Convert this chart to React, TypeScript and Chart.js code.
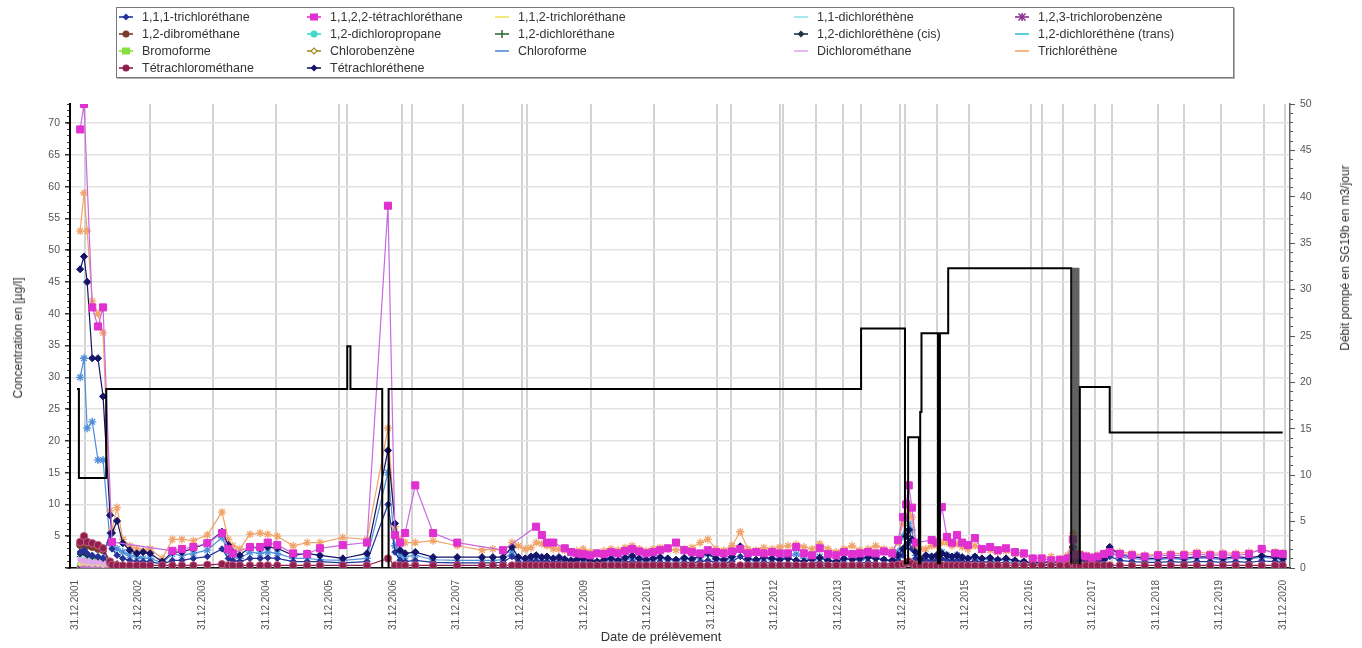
import React, { useEffect, useRef } from "react";
import { Chart, registerables } from "chart.js";

Chart.register(...registerables);

const FONT = "'Liberation Sans', Arial, sans-serif";

// Sampling dates (decimal years on the time axis; 2002.0 = 31.12.2001)
const sampleDates = [
  2002.08, 2002.14, 2002.19, 2002.27, 2002.36, 2002.44, 2002.55, 2002.58, 2002.66, 2002.75,
  2002.86, 2002.97, 2003.07, 2003.18, 2003.37, 2003.53, 2003.68, 2003.86, 2004.08, 2004.31,
  2004.41, 2004.48, 2004.59, 2004.75, 2004.91, 2005.03, 2005.18, 2005.43, 2005.65, 2005.85,
  2006.21, 2006.59, 2006.92, 2007.03, 2007.11, 2007.19, 2007.35, 2007.63, 2008.01, 2008.40,
  2008.57, 2008.73, 2008.87,
  2008.97, 2009.08, 2009.17, 2009.25, 2009.34, 2009.42, 2009.52, 2009.61, 2009.70, 2009.80,
  2009.89, 2009.99, 2010.10, 2010.21, 2010.32, 2010.43, 2010.54, 2010.65, 2010.76, 2010.87,
  2010.98, 2011.09, 2011.20, 2011.32, 2011.45, 2011.58, 2011.70, 2011.83, 2011.95, 2012.08,
  2012.20, 2012.33, 2012.46, 2012.58, 2012.71, 2012.83, 2012.96, 2013.08, 2013.21, 2013.34,
  2013.46, 2013.59, 2013.71, 2013.84, 2013.97, 2014.09, 2014.22, 2014.34, 2014.47, 2014.59,
  2014.72, 2014.85, 2014.94, 2015.02, 2015.07, 2015.11, 2015.16, 2015.22, 2015.29, 2015.38,
  2015.47, 2015.55, 2015.63, 2015.71, 2015.79, 2015.87, 2015.95, 2016.04, 2016.15, 2016.26,
  2016.39, 2016.51, 2016.64, 2016.78, 2016.92, 2017.06, 2017.20, 2017.35, 2017.49, 2017.61,
  2017.69, 2017.74, 2017.80, 2017.90, 2017.99, 2018.08, 2018.18, 2018.27, 2018.43, 2018.62,
  2018.82, 2019.03, 2019.23, 2019.44, 2019.64, 2019.85, 2020.05, 2020.25, 2020.46, 2020.66,
  2020.87, 2020.99,
];

const tetrachloroethene = [
  47, 49, 45, 33, 33, 27, 8.3, 5.5, 7.4, 3.9, 2.8, 2.3, 2.5, 2.3, 1.0, 2.5, 2.5, 3.1, 3.9, 5.7,
  3.6, 2.5, 2.0, 3.3, 3.1, 3.3, 3.1, 2.0, 2.3, 2.0, 1.5, 2.3, 18.5, 7.0, 2.8, 2.3, 2.5, 1.7, 1.7, 1.7,
  1.7, 1.7, 3.3,
  1.7, 1.5, 1.8, 2.0, 1.7, 1.8, 1.5, 1.7, 1.4, 1.2,
  1.3, 1.5, 1.2, 1.0, 1.3, 1.5, 1.2, 1.6, 1.9, 1.5,
  1.3, 1.5, 1.7, 1.5, 1.3, 1.6, 1.4, 1.9, 2.3, 1.5,
  1.3, 1.8, 3.4, 1.5, 1.3, 1.7, 1.5, 1.3, 1.5, 1.2,
  1.0, 1.4, 1.6, 1.2, 1.0, 1.5, 1.3, 1.5, 1.7, 1.5,
  1.3, 1.2, 2.0, 3.0, 5.0, 6.0, 4.5, 2.5, 1.5, 2.0,
  1.8, 2.0, 2.3, 2.0, 1.8, 2.0, 1.7, 1.5, 1.8, 1.5,
  1.6, 1.3, 1.5, 1.2, 1.0, 0.8, 0.9, 1.0, 0.8, 1.2,
  3.3, 1.5, 1.3, 1.2, 1.0, 1.2, 1.4, 3.3, 2.0, 1.8,
  1.5, 1.5, 1.7, 1.5, 1.8, 1.7, 1.5, 1.8, 1.6, 1.9,
  1.7, 1.5,
];

const tetrachloroethane1122 = [
  69, 73, null, 41, 38, 41, null, 4.1, null, null, null, null, null, null, null, 2.7, 3.0, 3.3, 3.9, 5.5,
  3.0, 2.3, null, 3.3, 3.3, 4.0, 3.6, 2.3, 2.2, 3.1, 3.6, 4.0, 57, 5.2, 4.0, 5.5, 13, 5.5, 4.0, null,
  null, 2.8, null,
  null, null, null, 6.5, 5.2, 4.0, 4.0, null, 3.1, 2.5,
  2.3, 2.2, 2.0, 2.3, 2.2, 2.5, 2.3, 2.7, 3.0, 2.6,
  2.3, 2.5, 2.8, 3.1, 4.0, 2.8, 2.5, 2.3, 2.8, 2.5,
  2.3, 2.6, 3.0, 2.3, 2.5, 2.3, 2.5, 2.3, 2.3, 3.3,
  2.3, 2.0, 3.1, 2.2, 2.0, 2.5, 2.2, 2.3, 2.5, 2.3,
  2.6, 2.3, 4.4, 8.0, 10.0, 13.0, 9.5, 4.0, null, null,
  4.4, 4.0, 9.6, 4.9, 4.0, 5.2, 4.0, 3.6, 4.7, 3.0,
  3.3, 2.8, 3.1, 2.5, 2.3, 1.5, 1.5, 1.2, 1.3, 1.5,
  4.5, 2.0, 2.0, 1.8, 1.6, 1.8, 2.2, 2.5, 2.2, 2.0,
  1.8, 2.0, 2.0, 2.0, 2.2, 2.0, 2.1, 2.0, 2.2, 3.0,
  2.3, 2.2,
];

const trichloroethene = [
  53, 59, 53, 42, 40, 37, 9.0, 6.0, 9.5, 4.5, 3.5, 3.0, 2.7, 3.0, 1.5, 4.5, 4.5, 4.3, 5.2, 8.8,
  4.5, 3.5, 3.0, 5.3, 5.5, 5.3, 5.0, 3.5, 4.0, 4.0, 4.8, 4.5, 22, 6.5, 4.5, 4.0, 4.0, 4.3, 3.5, 2.8,
  3.0, 2.7, 4.0,
  3.5, 3.0, 3.2, 4.0, 3.8, 3.5, 3.0, 3.0, 2.8, 2.5,
  2.7, 3.0, 2.5, 2.3, 2.7, 3.0, 2.8, 3.2, 3.5, 3.0,
  2.7, 3.0, 3.2, 3.0, 2.8, 3.0, 3.2, 4.0, 4.5, 3.0,
  2.8, 3.5, 5.7, 3.0, 2.8, 3.2, 3.0, 3.3, 3.5, 3.7,
  3.3, 3.0, 3.8, 3.0, 2.5, 3.0, 3.5, 2.8, 3.0, 3.5,
  3.0, 2.8, 4.0, 7.0, 10.0, 9.0, 8.0, 3.5, 3.0, 3.0,
  3.5, 3.5, 4.0, 4.0, 3.5, 3.8, 3.3, 3.0, 3.5, 2.8,
  2.8, 2.5, 2.7, 2.2, 2.0, 1.5, 1.6, 1.8, 1.5, 2.0,
  5.5, 2.5, 2.3, 2.0, 1.8, 2.0, 2.3, 3.0, 2.5, 2.3,
  2.0, 2.2, 2.3, 2.3, 2.5, 2.3, 2.4, 2.3, 2.5, 2.8,
  2.5, 2.4,
];

const chloroforme = [
  30, 33, 22, 23, 17, 17, 4.0, 3.5, 3.0, 2.5, 2.0, 1.8, 1.5, 1.5, 0.8, 2.2, 2.0, 2.3, 2.8, 4.8,
  2.5, 2.0, 1.5, 2.5, 2.3, 2.5, 2.3, 1.5, 1.5, 1.3, 1.2, 1.5, 15, 3.5, 2.0, 1.8, 2.0, 1.3, 1.2, 1.2,
  1.2, 1.3, 2.5,
  1.5, 1.3, 1.6, 1.8, 1.6, 1.5, 1.3, 1.4, 1.2, 1.0,
  1.1, 1.3, 1.0, 0.9, 1.1, 1.3, 1.1, 1.4, 1.7, 1.3,
  1.1, 1.3, 1.5, 1.3, 1.1, 1.4, 1.3, 1.7, 2.2, 1.3,
  1.1, 1.6, 3.0, 1.3, 1.1, 1.5, 1.3, 1.5, 1.7, 2.2,
  1.5, 1.2, 1.8, 1.1, 0.9, 1.3, 1.8, 1.2, 1.5, 1.8,
  1.2, 1.0, 2.5, 5.0, 8.0, 7.0, 6.0, 2.0, 1.5, 1.7,
  1.8, 1.8, 2.5, 2.0, 1.7, 2.0, 1.6, 1.4, 1.7, 1.3,
  1.4, 1.2, 1.3, 1.0, 0.9, 0.7, 0.8, 0.9, 0.7, 1.0,
  3.0, 1.3, 1.2, 1.0, 0.9, 1.0, 1.2, 2.5, 1.7, 1.5,
  1.3, 1.3, 1.5, 1.3, 1.6, 1.5, 1.3, 1.6, 1.4, 1.7,
  1.5, 1.3,
];

const tetrachloromethane = [
  4.1, 5.0, 4.1, 3.9, 3.6, 3.1, 1.0, 0.5, 0.4, 0.4, 0.4, 0.4, 0.4, 0.4, 0.4, 0.4, 0.4, 0.4, 0.5, 0.6,
  0.4, 0.4, 0.4, 0.4, 0.4, 0.4, 0.4, 0.4, 0.4, 0.4, 0.4, 0.4, 1.5, 0.4, 0.4, 0.4, 0.4, 0.4, 0.4, 0.4,
  0.4, 0.4, 0.4,
  0.4, 0.4, 0.4, 0.4, 0.4, 0.4, 0.4, 0.4, 0.4, 0.4,
  0.4, 0.4, 0.4, 0.4, 0.4, 0.4, 0.4, 0.4, 0.4, 0.4,
  0.4, 0.4, 0.4, 0.4, 0.4, 0.4, 0.4, 0.4, 0.4, 0.4,
  0.4, 0.4, 0.4, 0.4, 0.4, 0.4, 0.4, 0.4, 0.4, 0.4,
  0.4, 0.4, 0.4, 0.4, 0.4, 0.4, 0.4, 0.4, 0.4, 0.4,
  0.4, 0.4, 0.5, 0.6, 0.8, 1.0, 0.7, 0.4, 0.4, 0.4,
  0.4, 0.4, 0.4, 0.4, 0.4, 0.4, 0.4, 0.4, 0.4, 0.4,
  0.4, 0.4, 0.4, 0.4, 0.4, 0.4, 0.4, 0.4, 0.4, 0.4,
  0.8, 0.4, 0.4, 0.4, 0.4, 0.4, 0.4, 0.4, 0.4, 0.4,
  0.4, 0.4, 0.4, 0.4, 0.4, 0.4, 0.4, 0.4, 0.4, 0.4,
  0.4, 0.4,
];

const trichloroethane111 = [
  2.5, 2.8, 2.3, 2.0, 1.8, 1.6, 5.5, 3.0, 2.0, 1.5, 1.2, 1.0, 1.0, 1.0, 0.6, 1.2, 1.2, 1.5, 1.8, 3.0,
  1.5, 1.2, 1.0, 1.5, 1.5, 1.6, 1.5, 1.0, 1.0, 1.0, 0.8, 1.0, 10, 2.5, 1.2, 1.0, 1.2, 0.9, 0.8, 0.8,
  0.8, 0.9, 1.8,
  0.9, 0.8, 1.0, 1.1, 0.9, 1.0, 0.8, 0.9, 0.8, 0.7,
  0.7, 0.8, 0.7, 0.6, 0.7, 0.8, 0.7, 0.9, 1.0, 0.8,
  0.7, 0.8, 0.9, 0.8, 0.7, 0.9, 0.8, 1.0, 1.2, 0.8,
  0.7, 1.0, 1.8, 0.8, 0.7, 0.9, 0.8, 0.7, 0.8, 0.7,
  0.6, 0.8, 0.9, 0.7, 0.6, 0.8, 0.7, 0.8, 0.9, 0.8,
  0.7, 0.7, 1.2, 2.0, 3.5, 4.0, 3.0, 1.5, 1.0, 1.2,
  1.1, 1.2, 1.4, 1.2, 1.1, 1.2, 1.0, 0.9, 1.1, 0.9,
  1.0, 0.8, 0.9, 0.7, 0.6, 0.5, 0.5, 0.6, 0.5, 0.7,
  2.0, 0.9, 0.8, 0.7, 0.6, 0.7, 0.8, 1.8, 1.2, 1.0,
  0.9, 0.9, 1.0, 0.9, 1.0, 1.0, 0.9, 1.0, 0.9, 1.1,
  1.0, 0.9,
];

const dce12cis = [2.2, 2.4, 2.0, 1.8, 1.7, 1.5, 1.0, 0.8, 0.7, 0.6, 0.6, 0.5, 0.5, 0.5];
const dichloromethane = [1.3, 1.2, 1.1, 1.0, 1.0, 0.9, 0.5, 0.4, 0.3, 0.3, 0.3, 0.3, 0.3, 0.3];
const dibromoethane12 = [3.6, 4.2, 3.5, 3.3, 3.0, 2.8, 0.8, 0.4, 0.3, 0.3, 0.3, 0.3, 0.3, 0.3];
const trichloroethane112 = [0.6, 0.7, 0.6, 0.5, 0.5, 0.4, 0.3, 0.3, 0.2, 0.2, 0.2, 0.2, 0.2, 0.2];
const dce11 = [1.6, 1.8, 1.5, 1.3, 1.2, 1.0, 0.5, 0.4, 0.4, 0.3, 0.3, 0.3, 0.3, 0.3];
const tcb123 = [0.2, 0.2, 0.2, 0.2, 0.2, 0.2, 0.1, 0.1, 0.1, 0.1, 0.1, 0.1, 0.1, 0.1];
const dcp12 = [0.4, 0.4, 0.3, 0.3, 0.3, 0.3, 0.2, 0.2, 0.2, 0.2, 0.2, 0.2, 0.2, 0.2];
const dca12 = [1.8, 2.0, 1.7, 1.5, 1.3, 1.2, 0.6, 0.5, 0.4, 0.4, 0.3, 0.3, 0.3, 0.3];
const dce12trans = [0.8, 0.9, 0.8, 0.7, 0.6, 0.6, 0.3, 0.3, 0.2, 0.2, 0.2, 0.2, 0.2, 0.2];
const bromoforme = [0.2, 0.2, 0.2, 0.2, 0.2, 0.2, 0.1, 0.1, 0.1, 0.1, 0.1, 0.1, 0.1, 0.1];
const chlorobenzene = [0.1, 0.1, 0.1, 0.1, 0.1, 0.1, 0.1, 0.1, 0.1, 0.1, 0.1, 0.1, 0.1, 0.1];

// Pumped flow (m3/day), each value holds from its date until the next one
const pumpDates = [
  2002.03, 2002.06, 2002.49, 2006.28, 2006.33, 2006.83, 2006.93, 2014.36, 2015.05, 2015.1,
  2015.27, 2015.29, 2015.31, 2015.57, 2015.6, 2015.73, 2017.665, 2017.68, 2017.695, 2017.71,
  2017.725, 2017.74, 2017.755, 2017.77, 2017.785, 2017.8, 2018.27, 2020.99,
];
const pumpRates = [
  19.3, 9.7, 19.3, 23.9, 19.3, 0, 19.3, 25.8, 0.5, 14.1,
  0.5, 16.8, 25.3, 0.5, 25.3, 32.3, 0.5, 32.3, 0.5, 32.3,
  0.5, 32.3, 0.5, 32.3, 0.5, 19.5, 14.6, 14.6,
];

const xTickValues = [
  2002, 2003, 2004, 2005, 2006, 2007, 2008, 2009, 2010, 2011,
  2012, 2013, 2014, 2015, 2016, 2017, 2018, 2019, 2020, 2021,
];
const xGridValues = [
  2002.16, 2003.18, 2004.17, 2005.16, 2006.15, 2006.28, 2007.14, 2007.3, 2008.1, 2009.03,
  2009.11, 2010.11, 2011.1, 2012.09, 2012.31, 2013.08, 2013.13, 2013.65, 2014.08, 2014.36,
  2014.97, 2015.05, 2015.55, 2016.06, 2017.03, 2017.2, 2017.53, 2018.04, 2018.3, 2019.03,
  2019.44, 2020.02, 2020.7, 2021.03,
];
const concTickValues = [0, 5, 10, 15, 20, 25, 30, 35, 40, 45, 50, 55, 60, 65, 70];
const X_MIN = 2001.92;
const X_MAX = 2021.105;
const CONC_MAX = 73;
const FLOW_MAX = 50;
const DENSE_PUMP_FROM = 2017.67;
const DENSE_PUMP_TO = 2017.79;

type Shape = "diamond" | "square" | "circle" | "star" | "cross" | "dash" | "hollowDiamond";

interface SeriesDef {
  label: string;
  values: (number | null)[];
  color: string;
  lineColor?: string;
  borderColor?: string;
  point: string;
  radius: number;
  legend: Shape;
  order: number;
  fill?: string;
}

const SERIES: SeriesDef[] = [
  { label: "1,1,1-trichloréthane", values: trichloroethane111, color: "#24329a", point: "rectRot", radius: 3.2, legend: "diamond", order: 5 },
  { label: "1,1,2,2-tétrachloréthane", values: tetrachloroethane1122, color: "#e030d0", lineColor: "#c86ade", point: "rect", radius: 5, legend: "square", order: 2 },
  { label: "1,1,2-trichloréthane", values: trichloroethane112, color: "#f2e35a", point: "circle", radius: 2, legend: "dash", order: 9 },
  { label: "1,1-dichloréthène", values: dce11, color: "#8fe6e6", point: "circle", radius: 2, legend: "dash", order: 9 },
  { label: "1,2,3-trichlorobenzène", values: tcb123, color: "#8a2c8a", point: "star", radius: 3, legend: "star", order: 9 },
  { label: "1,2-dibrométhane", values: dibromoethane12, color: "#7b3b2e", point: "circle", radius: 3.5, legend: "circle", order: 8 },
  { label: "1,2-dichloropropane", values: dcp12, color: "#3fd9cc", point: "circle", radius: 3, legend: "circle", order: 9 },
  { label: "1,2-dichloréthane", values: dca12, color: "#2f6b35", point: "cross", radius: 3.5, legend: "cross", order: 9 },
  { label: "1,2-dichloréthène (cis)", values: dce12cis, color: "#1e3446", point: "rectRot", radius: 3, legend: "diamond", order: 7 },
  { label: "1,2-dichloréthène (trans)", values: dce12trans, color: "#37bfe0", point: "circle", radius: 2, legend: "dash", order: 9 },
  { label: "Bromoforme", values: bromoforme, color: "#86e03c", point: "rect", radius: 4, legend: "square", order: 9 },
  { label: "Chlorobenzène", values: chlorobenzene, color: "#a88a1e", point: "rectRot", radius: 3, legend: "hollowDiamond", order: 9 },
  { label: "Chloroforme", values: chloroforme, color: "#4f8fd8", point: "star", radius: 4, legend: "dash", order: 6 },
  { label: "Dichlorométhane", values: dichloromethane, color: "#e2a6ee", point: "circle", radius: 2.5, legend: "dash", order: 8, fill: "origin" },
  { label: "Trichloréthène", values: trichloroethene, color: "#f2a36a", point: "star", radius: 4, legend: "dash", order: 4 },
  { label: "Tétrachlorométhane", values: tetrachloromethane, color: "#8e1f4f", borderColor: "#c4607f", point: "circle", radius: 3.8, legend: "circle", order: 1 },
  { label: "Tétrachloréthene", values: tetrachloroethene, color: "#141468", point: "rectRot", radius: 3.6, legend: "diamond", order: 3 },
];

const LEGEND_COL_X = [142, 330, 518, 817, 1038];
const LEGEND_ROW_Y = [17, 34, 51, 68];

function LegendMarker({ shape, color }: { shape: Shape; color: string }) {
  const c = 10;
  const m = 6;
  let s: React.ReactNode = null;
  if (shape === "diamond") s = <polygon points={`${c},${m - 3.5} ${c + 3.5},${m} ${c},${m + 3.5} ${c - 3.5},${m}`} fill={color} />;
  else if (shape === "hollowDiamond") s = <polygon points={`${c},${m - 3} ${c + 3},${m} ${c},${m + 3} ${c - 3},${m}`} fill="#fff" stroke={color} strokeWidth={1.2} />;
  else if (shape === "square") s = <rect x={c - 4} y={m - 3.5} width={8} height={7} fill={color} />;
  else if (shape === "circle") s = <circle cx={c} cy={m} r={3.5} fill={color} />;
  else if (shape === "star")
    s = (
      <g stroke={color} strokeWidth={1.5}>
        <line x1={c - 3.5} y1={m - 3.5} x2={c + 3.5} y2={m + 3.5} />
        <line x1={c - 3.5} y1={m + 3.5} x2={c + 3.5} y2={m - 3.5} />
        <line x1={c} y1={m - 4} x2={c} y2={m + 4} />
      </g>
    );
  else if (shape === "cross") s = <line x1={c} y1={m - 4} x2={c} y2={m + 4} stroke={color} strokeWidth={1.5} />;
  return (
    <svg width={20} height={12} style={{ display: "block" }}>
      <line x1={3} y1={m} x2={17} y2={m} stroke={color} strokeWidth={1.6} />
      {s}
    </svg>
  );
}

export default function App() {
  const canvasRef = useRef<HTMLCanvasElement | null>(null);

  useEffect(() => {
    if (!canvasRef.current) return;
    Chart.defaults.font.family = FONT;

    const datasets: any[] = SERIES.map((s) => ({
      label: s.label,
      data: sampleDates.map((d, i) => ({ x: d, y: i < s.values.length ? s.values[i] : null })),
      borderColor: s.lineColor || s.color,
      backgroundColor: s.fill ? "rgba(226,166,238,0.55)" : s.color,
      pointBackgroundColor: s.legend === "hollowDiamond" ? "#fff" : s.color,
      pointBorderColor: s.borderColor || s.color,
      pointBorderWidth: s.point === "star" || s.point === "cross" ? 1.3 : 1,
      pointStyle: s.point,
      pointRadius: s.radius,
      borderWidth: 1.2,
      spanGaps: true,
      fill: s.fill || false,
      order: s.order,
      yAxisID: "y",
      xAxisID: "x",
    }));

    const inDense = (ctx: any) => ctx.p1.parsed.x > DENSE_PUMP_FROM && ctx.p1.parsed.x <= DENSE_PUMP_TO;

    datasets.push({
      label: "Débit pompé",
      data: pumpDates.map((d, i) => ({ x: d, y: pumpRates[i] })),
      borderColor: "#000",
      borderWidth: 2,
      pointRadius: 0,
      stepped: "before",
      fill: false,
      order: 0,
      yAxisID: "y1",
      xAxisID: "x",
      segment: {
        borderColor: (ctx: any) => (inDense(ctx) ? "rgba(45,45,45,0.75)" : undefined),
        borderWidth: (ctx: any) => (inDense(ctx) ? 1.2 : undefined),
      },
    });

    const minor = (max: number) => Array.from({ length: max + 1 }, (_, i) => ({ value: i }));

    const chart = new Chart(canvasRef.current, {
      type: "line",
      data: { datasets },
      options: {
        animation: false,
        responsive: false,
        maintainAspectRatio: false,
        layout: { padding: { top: 104, left: 0, right: 0, bottom: 0 } },
        plugins: { legend: { display: false }, tooltip: { enabled: false } },
        scales: {
          xg: {
            type: "linear",
            position: "bottom",
            weight: 0,
            min: X_MIN,
            max: X_MAX,
            afterBuildTicks: (s: any) => { s.ticks = xGridValues.map((v) => ({ value: v })); },
            afterFit: (s: any) => { s.height = 0; },
            ticks: { display: false },
            grid: { color: "#d3d3d3", lineWidth: 2, drawTicks: false },
            border: { display: false },
          },
          x: {
            type: "linear",
            position: "bottom",
            weight: 1,
            min: X_MIN,
            max: X_MAX,
            afterBuildTicks: (s: any) => { s.ticks = xTickValues.map((v) => ({ value: v })); },
            afterFit: (s: any) => { s.height = 80; },
            ticks: {
              autoSkip: false,
              minRotation: 90,
              maxRotation: 90,
              padding: 4,
              color: "#555",
              font: { size: 10 },
              callback: (v: any) => "31.12." + (Number(v) - 1),
            },
            grid: { display: false },
            border: { display: true, color: "#111", width: 1.5 },
          },
          yMinor: {
            type: "linear",
            position: "left",
            weight: 0,
            min: 0,
            max: CONC_MAX,
            afterBuildTicks: (s: any) => { s.ticks = minor(CONC_MAX); },
            afterFit: (s: any) => { s.width = 0; },
            ticks: { display: false },
            grid: { drawOnChartArea: false, tickLength: 3, tickColor: "#444", lineWidth: 1 },
            border: { display: false },
          },
          y: {
            type: "linear",
            position: "left",
            weight: 1,
            min: 0,
            max: CONC_MAX,
            afterBuildTicks: (s: any) => { s.ticks = concTickValues.map((v) => ({ value: v })); },
            afterFit: (s: any) => { s.width = 70; },
            ticks: {
              color: "#555",
              font: { size: 10.5 },
              padding: 5,
              callback: (v: any) => (Number(v) === 0 ? "" : String(v)),
            },
            grid: { color: "#e3e3e3", lineWidth: 1.5, tickLength: 5, tickColor: "#333" },
            border: { color: "#000", width: 2 },
          },
          y1Minor: {
            type: "linear",
            position: "right",
            weight: 0,
            min: 0,
            max: FLOW_MAX,
            afterBuildTicks: (s: any) => { s.ticks = minor(FLOW_MAX); },
            afterFit: (s: any) => { s.width = 0; },
            ticks: { display: false },
            grid: { drawOnChartArea: false, tickLength: 3, tickColor: "#555", lineWidth: 1 },
            border: { display: false },
          },
          y1: {
            type: "linear",
            position: "right",
            weight: 1,
            min: 0,
            max: FLOW_MAX,
            ticks: { stepSize: 5, color: "#555", font: { size: 10.5 }, padding: 5 },
            afterFit: (s: any) => { s.width = 72; },
            grid: { drawOnChartArea: false, tickLength: 5, tickColor: "#555" },
            border: { color: "#666", width: 1.5 },
          },
        },
      } as any,
    });
    return () => chart.destroy();
  }, []);

  const textStyle: React.CSSProperties = { fontFamily: FONT, color: "#333", whiteSpace: "nowrap", position: "absolute" };

  return (
    <div style={{ position: "fixed", left: 0, top: 0, width: 1362, height: 648, background: "#fff", overflow: "hidden" }}>
      <canvas ref={canvasRef} width={1362} height={648} style={{ position: "absolute", left: 0, top: 0, width: 1362, height: 648 }} />
      <div
        style={{
          position: "absolute",
          left: 116,
          top: 7,
          width: 1118,
          height: 71,
          border: "1px solid #7a7a7a",
          boxShadow: "1px 1px 0 #b0b0b0",
          boxSizing: "border-box",
        }}
      />
      {SERIES.map((s, i) => {
        const col = i % 5;
        const row = Math.floor(i / 5);
        const tx = LEGEND_COL_X[col];
        const cy = LEGEND_ROW_Y[row];
        return (
          <React.Fragment key={s.label}>
            <div style={{ position: "absolute", left: tx - 26, top: cy - 6 }}>
              <LegendMarker shape={s.legend} color={s.color} />
            </div>
            <div style={{ ...textStyle, left: tx, top: cy - 8, fontSize: 12.5, lineHeight: "16px" }}>{s.label}</div>
          </React.Fragment>
        );
      })}
      <div style={{ ...textStyle, left: 18, top: 338, fontSize: 12, transform: "translate(-50%,-50%) rotate(-90deg)" }}>
        Concentration en [µg/l]
      </div>
      <div style={{ ...textStyle, left: 1345, top: 258, fontSize: 12, transform: "translate(-50%,-50%) rotate(-90deg)" }}>
        Débit pompé en SG19b en m3/jour
      </div>
      <div style={{ ...textStyle, left: 661, top: 636, fontSize: 13, transform: "translate(-50%,-50%)" }}>
        Date de prélèvement
      </div>
    </div>
  );
}
